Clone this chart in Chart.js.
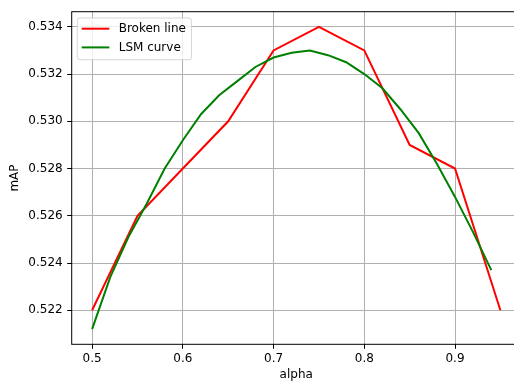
<!DOCTYPE html>
<html>
<head>
<meta charset="utf-8">
<script src="https://cdn.jsdelivr.net/npm/chart.js@4"></script>
<style>
  html, body { margin: 0; padding: 0; background: #fff; overflow: hidden; }
  .wrap { width: 514px; height: 383px; overflow: hidden; }
</style>
</head>
<body>
<div class="wrap"><canvas id="c" width="522" height="383"></canvas></div>
<script>
// data
const alphaBroken = [0.50, 0.55, 0.60, 0.65, 0.70, 0.75, 0.80, 0.85, 0.90, 0.95];
const mapBroken = [0.522, 0.526, 0.528, 0.530, 0.533, 0.534, 0.533, 0.529, 0.528, 0.522];

const alphaLsm = [0.50, 0.52, 0.54, 0.56, 0.58, 0.60, 0.62, 0.64, 0.66, 0.68, 0.70, 0.72,
                  0.74, 0.76, 0.78, 0.80, 0.82, 0.84, 0.86, 0.88, 0.90, 0.92, 0.94];
const mapLsm = [0.5212, 0.5234, 0.5251, 0.5265, 0.5280, 0.5292, 0.5303, 0.5311, 0.5317, 0.5323,
                0.5327, 0.5329, 0.5330, 0.5328, 0.5325, 0.5320, 0.5314, 0.5305, 0.5295, 0.5282,
                0.5268, 0.5253, 0.5237];

const xTicks = [0.5, 0.6, 0.7, 0.8, 0.9];
const yTicks = [0.522, 0.524, 0.526, 0.528, 0.530, 0.532, 0.534];

// matplotlib style 5% margins
function limits(arrs) {
  const all = [].concat(...arrs);
  const lo = Math.min(...all), hi = Math.max(...all);
  const m = (hi - lo) * 0.05;
  return [lo - m, hi + m];
}
const [xMin, xMax] = limits([alphaBroken, alphaLsm]);
const [yMin, yMax] = limits([mapBroken, mapLsm]);

const FONT = 'DejaVu Sans';

// legend drawn inside the axes, upper left
const boxLegend = {
  id: 'boxLegend',
  afterDatasetsDraw(chart) {
    const ctx = chart.ctx;
    const a = chart.chartArea;
    // spines
    ctx.save();
    ctx.strokeStyle = '#000';
    ctx.lineWidth = 1;
    ctx.strokeRect(a.left, a.top, a.right - a.left, a.bottom - a.top);
    ctx.restore();

    const items = chart.data.datasets;
    ctx.save();
    ctx.font = '12px ' + FONT;
    let tw = 0;
    items.forEach(d => { tw = Math.max(tw, ctx.measureText(d.label).width); });
    const x0 = a.left + 5.6, y0 = a.top + 6.3;
    const w = 41.4 + tw + 5.5, h = 41.7;
    ctx.beginPath();
    ctx.roundRect(x0, y0, w, h, 2.5);
    ctx.fillStyle = 'rgba(255,255,255,0.8)';
    ctx.fill();
    ctx.strokeStyle = 'rgba(204,204,204,0.8)';
    ctx.lineWidth = 1;
    ctx.stroke();
    items.forEach((d, i) => {
      const yy = y0 + 10.7 + i * 18.7;
      ctx.beginPath();
      ctx.moveTo(x0 + 4.4, yy);
      ctx.lineTo(x0 + 32, yy);
      ctx.strokeStyle = d.borderColor;
      ctx.lineWidth = 2;
      ctx.stroke();
      ctx.fillStyle = '#000';
      ctx.textBaseline = 'middle';
      ctx.fillText(d.label, x0 + 41.4, yy + 0.5);
    });
    ctx.restore();
  }
};

const ctx = document.getElementById('c').getContext('2d');
const chart = new Chart(ctx, {
  type: 'line',
  data: {
    datasets: [{
      label: 'Broken line',
      data: alphaBroken.map((x, i) => ({ x: x, y: mapBroken[i] })),
      borderColor: '#ff0000',
      borderWidth: 2,
      pointRadius: 0,
      tension: 0,
      order: 2
    }, {
      label: 'LSM curve',
      data: alphaLsm.map((x, i) => ({ x: x, y: mapLsm[i] })),
      borderColor: '#008000',
      borderWidth: 2,
      pointRadius: 0,
      tension: 0,
      order: 1
    }]
  },
  options: {
    responsive: false,
    animation: false,
    devicePixelRatio: 1,
    layout: { padding: { top: 10, right: 1.2, left: 0, bottom: 0 } },
    plugins: { legend: { display: false }, tooltip: { enabled: false } },
    scales: {
      x: {
        type: 'linear',
        min: xMin,
        max: xMax,
        afterBuildTicks: s => { s.ticks = xTicks.map(v => ({ value: v })); },
        afterFit: s => { s.height = 38.7; },
        ticks: {
          callback: v => v.toFixed(1),
          font: { family: FONT, size: 12 },
          color: '#000',
          padding: 3,
          maxRotation: 0,
          autoSkip: false
        },
        grid: { color: '#b0b0b0', lineWidth: 1, tickColor: '#000', tickLength: 4.5, drawTicks: true },
        border: { display: false },
        title: {
          display: true,
          text: 'alpha',
          font: { family: FONT, size: 12 },
          color: '#000',
          padding: { top: 0, bottom: 0.5 }
        }
      },
      y: {
        type: 'linear',
        min: yMin,
        max: yMax,
        afterBuildTicks: s => { s.ticks = yTicks.map(v => ({ value: v })); },
        afterFit: s => { s.width = 71.7; },
        ticks: {
          callback: v => v.toFixed(3),
          font: { family: FONT, size: 12 },
          color: '#000',
          padding: 4.5,
          autoSkip: false
        },
        grid: { color: '#b0b0b0', lineWidth: 1, tickColor: '#000', tickLength: 4.5, drawTicks: true },
        border: { display: false },
        title: {
          display: true,
          text: 'mAP',
          font: { family: FONT, size: 12 },
          color: '#000',
          padding: { top: 8, bottom: 0 }
        }
      }
    }
  },
  plugins: [boxLegend]
});
</script>
</body>
</html>
